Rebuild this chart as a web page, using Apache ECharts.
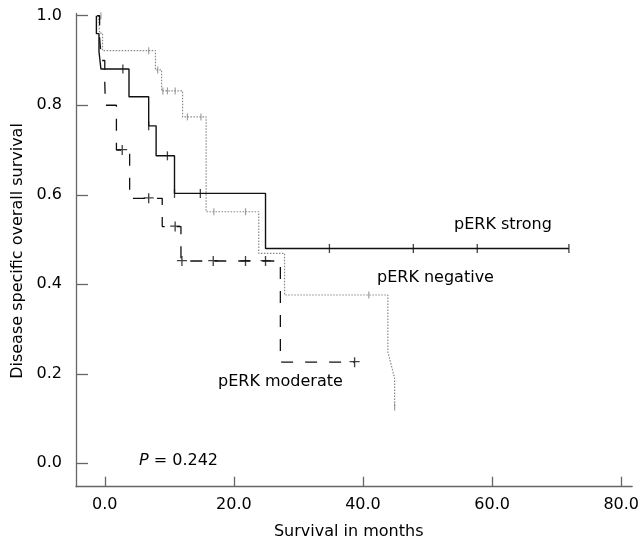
<!DOCTYPE html>
<html>
<head>
<meta charset="utf-8">
<script src="https://cdn.jsdelivr.net/npm/echarts@6/dist/echarts.min.js"></script>
<style>html,body{margin:0;padding:0;background:#fff}#c{width:642px;height:543px}</style>
</head>
<body>
<div id="c"></div>
<script>
// Kaplan-Meier curve vertices (months, survival)
const strongTime = [-1.3, -1.3, -0.9, -0.9, -0.6, -0.6, 3.75, 3.75, 6.8, 6.8, 7.95, 7.95, 10.8, 10.8, 24.9, 24.9, 71.9];
const strongSurv = [1.0, 0.96, 0.96, 0.92, 0.92, 0.881, 0.881, 0.819, 0.819, 0.754, 0.754, 0.687, 0.687, 0.603, 0.603, 0.480, 0.480];
const strongCensorTime = [2.8, 6.8, 9.7, 10.8, 14.8, 34.8, 47.8, 57.7, 71.9];
const strongCensorSurv = [0.881, 0.754, 0.687, 0.603, 0.603, 0.480, 0.480, 0.480, 0.480];

const negTime = [-1.0, -0.8, -0.8, -0.35, -0.35, 7.85, 7.85, 8.8, 8.8, 12.05, 12.05, 15.7, 15.7, 23.85, 23.85, 27.85, 27.85, 43.85, 43.85, 44.9, 44.9];
const negSurv = [1.0, 1.0, 0.961, 0.961, 0.922, 0.922, 0.879, 0.879, 0.832, 0.832, 0.774, 0.774, 0.562, 0.562, 0.469, 0.469, 0.376, 0.376, 0.249, 0.190, 0.126];
const negCensorTime = [-0.6, 6.8, 8.2, 9.0, 9.7, 10.9, 12.8, 14.9, 16.9, 21.8, 40.9, 44.9];
const negCensorSurv = [1.0, 0.922, 0.879, 0.832, 0.832, 0.832, 0.774, 0.774, 0.562, 0.562, 0.376, 0.126];

const modTime = [-1.2, -0.8, -0.8, -0.5, -0.5, 0.0, 0.0, 0.1, 0.1, 1.8, 1.8, 3.85, 3.85, 8.9, 8.9, 11.8, 11.8, 27.2, 27.2, 38.7];
const modSurv = [1.0, 1.0, 0.95, 0.95, 0.90, 0.90, 0.85, 0.85, 0.80, 0.80, 0.70, 0.70, 0.592, 0.592, 0.529, 0.529, 0.452, 0.452, 0.226, 0.226];
const modCensorTime = [2.7, 6.8, 10.9, 11.95, 16.8, 21.8, 24.9, 38.7];
const modCensorSurv = [0.70, 0.592, 0.529, 0.452, 0.452, 0.452, 0.452, 0.226];

const xTicks = [0, 20, 40, 60, 80];
const yTicks = [0, 0.2, 0.4, 0.6, 0.8, 1.0];

const zip = (a, b) => a.map((v, i) => [v, b[i]]);
const FONT = 'DejaVu Sans';
const axisGray = '#666';

const chart = echarts.init(document.getElementById('c'), null, {renderer: 'canvas'});
chart.setOption({
  animation: false,
  backgroundColor: '#fff',
  grid: {left: 76, right: 6, top: 13.5, bottom: 56.3, containLabel: false},
  xAxis: {
    type: 'value', min: -4.46, max: 81.7,
    axisLine: {show: true, onZero: false, lineStyle: {color: axisGray, width: 1.3}},
    axisTick: {show: true, inside: true, length: 10, customValues: xTicks, lineStyle: {color: axisGray, width: 1.3}},
    axisLabel: {customValues: xTicks, formatter: v => v.toFixed(1), color: '#000', fontFamily: FONT, fontSize: 16, margin: 10},
    splitLine: {show: false}
  },
  yAxis: {
    type: 'value', min: -0.0523, max: 1.005,
    axisLine: {show: true, onZero: false, lineStyle: {color: axisGray, width: 1.3}},
    axisTick: {show: true, inside: true, length: 12, customValues: yTicks, lineStyle: {color: axisGray, width: 1.3}},
    axisLabel: {customValues: yTicks, formatter: v => v.toFixed(1), color: '#000', fontFamily: FONT, fontSize: 16, margin: 14},
    splitLine: {show: false}
  },
  series: [
    {name: 'pERK negative', type: 'line', data: zip(negTime, negSurv), symbol: 'none', silent: true,
     lineStyle: {color: '#888', width: 1.2, type: [1.5, 1.5]}},
    {name: 'pERK moderate', type: 'line', data: zip(modTime, modSurv), symbol: 'none', silent: true,
     lineStyle: {color: '#111', width: 1.3, type: [12, 12]}},
    {name: 'pERK strong', type: 'line', data: zip(strongTime, strongSurv), symbol: 'none', silent: true,
     lineStyle: {color: '#111', width: 1.4, type: 'solid'}},
    {type: 'scatter', data: zip(negCensorTime, negCensorSurv), symbol: 'rect', symbolSize: [1.2, 7], silent: true,
     itemStyle: {color: '#888'}},
    {type: 'scatter', data: zip(modCensorTime, modCensorSurv), symbol: 'path://M0,3.5h9v1.2h-9z M3.9,0h1.2v9h-1.2z', symbolSize: 10, silent: true,
     itemStyle: {color: '#111'}},
    {type: 'scatter', data: zip(strongCensorTime, strongCensorSurv), symbol: 'rect', symbolSize: [1.3, 9], silent: true,
     itemStyle: {color: '#111'}}
  ],
  graphic: [
    {type: 'text', x: 454, y: 225, style: {text: 'pERK strong', fontFamily: FONT, fontSize: 16, fill: '#000', align: 'left', verticalAlign: 'middle'}},
    {type: 'text', x: 377, y: 278, style: {text: 'pERK negative', fontFamily: FONT, fontSize: 16, fill: '#000', align: 'left', verticalAlign: 'middle'}},
    {type: 'text', x: 218, y: 382, style: {text: 'pERK moderate', fontFamily: FONT, fontSize: 16, fill: '#000', align: 'left', verticalAlign: 'middle'}},
    {type: 'text', x: 139, y: 461, style: {text: '{i|P} = 0.242', fontFamily: FONT, fontSize: 16, fill: '#000', align: 'left', verticalAlign: 'middle',
      rich: {i: {fontStyle: 'italic', fontFamily: FONT, fontSize: 16, fill: '#000'}}}},
    {type: 'text', x: 348.7, y: 531.7, style: {text: 'Survival in months', fontFamily: FONT, fontSize: 16, fill: '#000', align: 'center', verticalAlign: 'middle'}},
    {type: 'text', x: 18.3, y: 251, rotation: Math.PI / 2, style: {text: 'Disease specific overall survival', fontFamily: FONT, fontSize: 16, fill: '#000', align: 'center', verticalAlign: 'middle'}}
  ]
});
</script>
</body>
</html>
